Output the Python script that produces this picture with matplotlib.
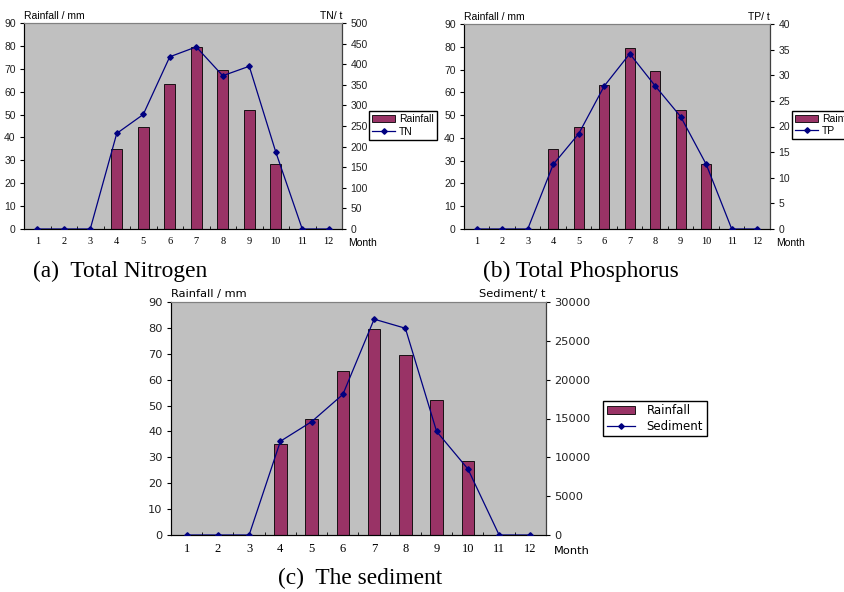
"""Monthly rainfall vs. TN, TP and sediment loads (three dual-axis panels)."""
import matplotlib
matplotlib.use('Agg')
from matplotlib import pyplot as plt
from matplotlib.patches import Patch
from matplotlib.lines import Line2D

months = list(range(1, 13))
rainfall = [0, 0, 0, 35, 44.7, 63.4, 79.5, 69.5, 52.2, 28.4, 0, 0]
tn = [0, 0, 0, 232, 278, 418, 442, 372, 395, 187, 0, 0]
tp = [0, 0, 0, 12.6, 18.6, 27.9, 34.2, 27.9, 21.9, 12.6, 0, 0]
sediment = [0, 0, 0, 12070, 14590, 18100, 27790, 26620, 13330, 8510, 0, 0]

BAR = '#993366'
LINE = '#000080'
GRAY = '#c0c0c0'
SERIF = 'Liberation Serif'

W, H = 845, 592


def fig_rect(x0, y0, x1, y1):
    """Pixel box (top-left origin) to figure fraction rect."""
    return [x0 / W, 1 - y1 / H, (x1 - x0) / W, (y1 - y0) / H]


def panel(fig, rect, load, name, ymax2, step2, legend_box, caption, cap_xy,
          sans='Liberation Sans', fs=7.5, xfs=7.5, lfs=7.5):
    ax = fig.add_axes(fig_rect(*rect))
    ax.set_facecolor(GRAY)
    ax.bar(months, rainfall, width=0.4, color=BAR, edgecolor='black',
           linewidth=0.6, zorder=2)
    ax.set_xlim(0.5, 12.5)
    ax.set_ylim(0, 90)
    ax.set_yticks(range(0, 91, 10))
    ax.set_xticks(months)
    ax.set_xticks([m + 0.5 for m in range(0, 12)], minor=True)
    ax.tick_params(axis='x', which='major', length=0, pad=6)
    ax.tick_params(axis='x', which='minor', length=2.5, direction='in')
    ax.tick_params(axis='y', length=3, pad=3)
    for lab in ax.get_xticklabels():
        lab.set_fontfamily(SERIF)
        lab.set_fontsize(xfs)
    for lab in ax.get_yticklabels():
        lab.set_fontfamily(sans)
        lab.set_fontsize(fs)
        lab.set_color('#222222')
    ax.spines['top'].set_color('#808080')
    ax.spines['left'].set_color('#404040')
    ax.spines['bottom'].set_color('#202020')

    ax2 = ax.twinx()
    ax2.plot(months, load, color=LINE, linewidth=0.9, marker='D',
             markersize=2.8, zorder=3)
    ax2.set_ylim(0, ymax2)
    ax2.set_yticks([i * step2 for i in range(int(round(ymax2 / step2)) + 1)])
    ax2.tick_params(axis='y', length=3, pad=3)
    for lab in ax2.get_yticklabels():
        lab.set_fontfamily(sans)
        lab.set_fontsize(fs)
        lab.set_color('#222222')
    ax2.spines['right'].set_color('#404040')
    ax2.spines['top'].set_color('#808080')

    ax.text(0.0, 1.012, 'Rainfall / mm', transform=ax.transAxes,
            fontfamily=sans, fontsize=fs, ha='left', va='bottom')
    ax.text(1.0, 1.012, f'{name}/ t', transform=ax.transAxes,
            fontfamily=sans, fontsize=fs, ha='right', va='bottom')
    ax.text(1.02, -0.068, 'Month', transform=ax.transAxes,
            fontfamily=sans, fontsize=fs, ha='left', va='center')

    handles = [Patch(facecolor=BAR, edgecolor='black', linewidth=0.6),
               Line2D([], [], color=LINE, linewidth=0.9, marker='D',
                      markersize=2.8)]
    x0, y0, x1, y1 = legend_box
    fig.legend(handles, ['Rainfall', name], loc='center left',
               bbox_to_anchor=(x0 / W, 1 - (y0 + y1) / 2 / H),
               fancybox=False, edgecolor='black', framealpha=1,
               prop={'family': sans, 'size': lfs},
               handlelength=2.4 if lfs > 8 else 2.2,
               handletextpad=1.0 if lfs > 8 else 0.4, borderpad=0.3,
               labelspacing=0.2, borderaxespad=0)
    fig.text(cap_xy[0] / W, 1 - cap_xy[1] / H, caption, fontfamily=SERIF,
             fontsize=16.8, ha='left', va='center')


fig = plt.figure(figsize=(8.45, 5.92), dpi=100)
panel(fig, (24, 23, 342, 229), tn, 'TN', 500, 50, (369, 113, 435, 138),
      '(a)  Total Nitrogen', (33, 271))
panel(fig, (464, 24, 770, 229), tp, 'TP', 40, 5, (792, 112, 860, 138),
      '(b) Total Phosphorus', (483, 271))
panel(fig, (171, 302, 546, 535), sediment, 'Sediment', 30000, 5000,
      (603, 404, 711, 433), '(c)  The sediment', (278, 578),
      sans='DejaVu Sans', fs=8.2, xfs=9, lfs=8.5)
fig.savefig('out.png', dpi=100)
